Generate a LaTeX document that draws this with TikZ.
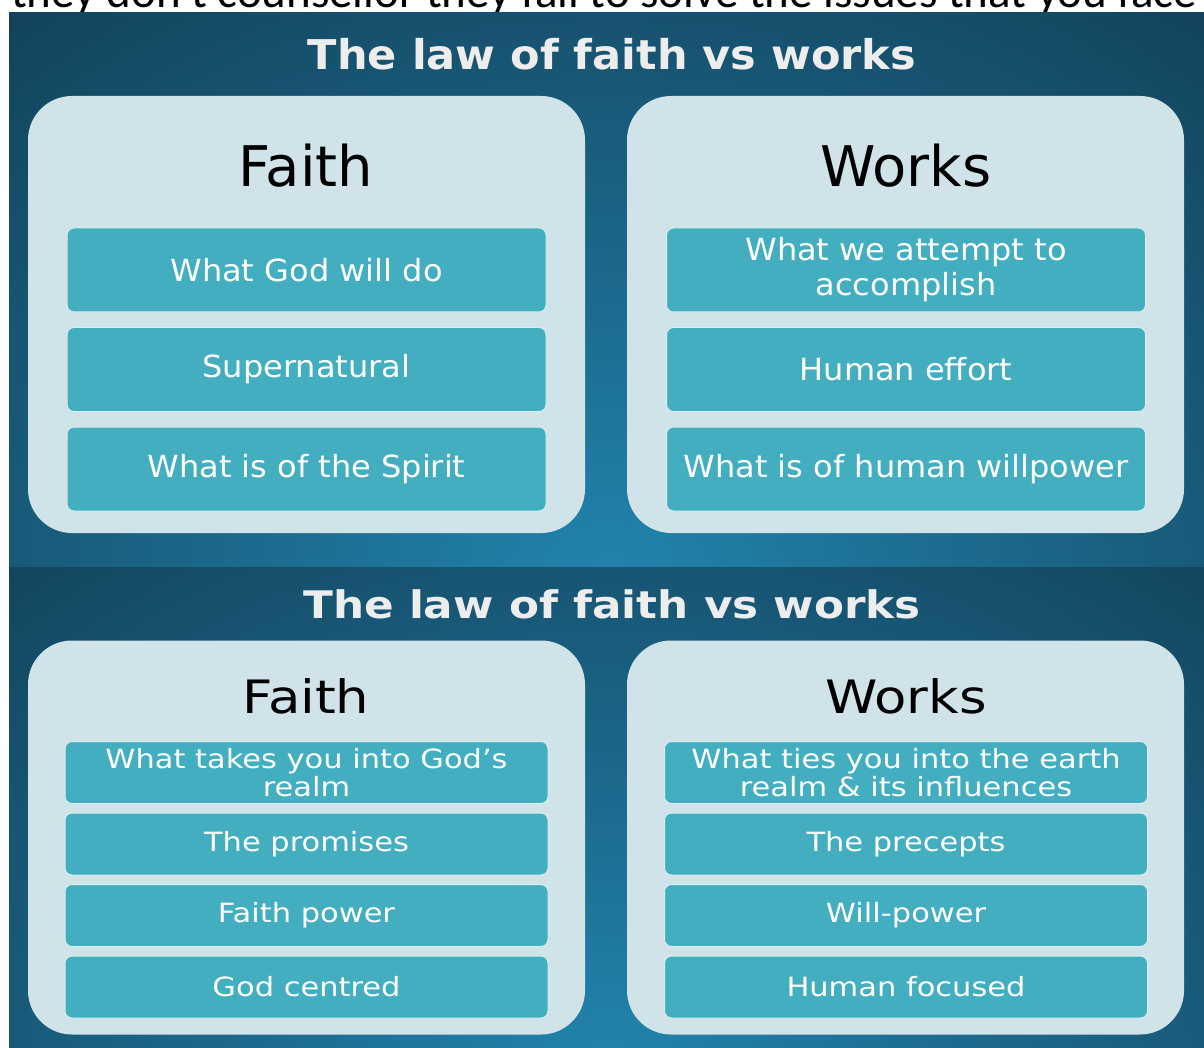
\documentclass[tikz,border=0pt]{standalone}
\usepackage{fontspec}
\setmainfont{DejaVu Sans}
\newfontfamily\upperfont[FakeStretch=1.05]{DejaVu Sans}
\newfontfamily\lowerfont[FakeStretch=1.15]{DejaVu Sans}
\newfontfamily\notefont{Carlito}
\usepackage{tikz}
\usetikzlibrary{positioning}
\usetikzlibrary{backgrounds}

\definecolor{slidedark}{HTML}{0F3448}
\definecolor{slidelight}{HTML}{2283AD}
\definecolor{panelfill}{HTML}{D0E3E9}
\definecolor{cellfill}{HTML}{42AEBF}
\definecolor{celledge}{HTML}{D6EFF3}

\begin{document}
\begin{tikzpicture}[x=1pt,y=-1pt,
	panel/.style={fill=panelfill, rounded corners=44pt, inner sep=0pt},
	cell/.style={fill=cellfill, draw=celledge, line width=1pt, rounded corners=7pt, text=white, align=center, inner sep=0pt},
	heading/.style={text=black, anchor=base, inner sep=0pt},
	title/.style={text=white!93!black, anchor=base, inner sep=0pt}]
\useasboundingbox (0,0) rectangle (1204,1048);
\clip (0,0) rectangle (1204,1048);
\fill[white] (0,0) rectangle (1204,1048);

% line of the page above, cut off
\node[anchor=base west, inner sep=0pt, font=\notefont\fontsize{47}{50}\selectfont] (note) at (11,8) {they don't counsellor they fail to solve the issues that you face};

% upper slide
\begin{scope}
\clip (9,13) rectangle (1204,567);
\fill[slidedark] (9,13) rectangle (1204,567);
\shade[inner color=slidelight, outer color=slidedark] (610,575) ellipse (1150pt and 900pt);
\end{scope}
\node[title, font=\upperfont\bfseries\fontsize{41}{44}\selectfont] (ttlA) at (612,70) {The law of faith vs works};

\node[panel, minimum width=557pt, minimum height=437pt] (faithA) at (306.5,314.5) {};
\node[panel, minimum width=557pt, minimum height=437pt] (worksA) at (905.5,314.5) {};
\node[heading, font=\fontsize{56}{60}\selectfont] (faithAhead) at (306,187) {Faith};
\node[heading, font=\fontsize{56}{60}\selectfont] (worksAhead) at (906,187) {Works};

\begin{scope}[every node/.style={cell, minimum width=479pt, minimum height=84pt, font=\upperfont\fontsize{30.5}{35}\selectfont}, node distance=14.5pt]
\node (fa1) at (306.5,270) {What God will do};
\node[below=of fa1] (fa2) {Supernatural};
\node[below=of fa2] (fa3) {What is of the Spirit};
\node (wa1) at (906,270) {What we attempt to\\accomplish};
\node[below=of wa1] (wa2) {Human effort};
\node[below=of wa2] (wa3) {What is of human willpower};
\end{scope}

% lower slide
\begin{scope}
\clip (9,567) rectangle (1204,1048);
\fill[slidedark] (9,567) rectangle (1204,1048);
\shade[inner color=slidelight, outer color=slidedark] (610,1060) ellipse (1150pt and 850pt);
\end{scope}
\node[title, font=\lowerfont\bfseries\fontsize{38}{40}\selectfont] (ttlB) at (612,618) {The law of faith vs works};

\node[panel, minimum width=557pt, minimum height=394pt] (faithB) at (306.5,837.5) {};
\node[panel, minimum width=557pt, minimum height=394pt] (worksB) at (905.5,837.5) {};
\node[heading, font=\lowerfont\fontsize{46}{50}\selectfont] (faithBhead) at (306,713) {Faith};
\node[heading, font=\lowerfont\fontsize{46}{50}\selectfont] (worksBhead) at (906,713) {Works};

\begin{scope}[every node/.style={cell, minimum width=483pt, minimum height=62pt, font=\lowerfont\fontsize{26.5}{28}\selectfont}, node distance=8.5pt]
\node (fb1) at (306.5,772.5) {What takes you into God’s\\realm};
\node[below=of fb1] (fb2) {The promises};
\node[below=of fb2] (fb3) {Faith power};
\node[below=of fb3] (fb4) {God centred};
\node (wb1) at (906,772.5) {What ties you into the earth\\realm \& its influences};
\node[below=of wb1] (wb2) {The precepts};
\node[below=of wb2] (wb3) {Will-power};
\node[below=of wb3] (wb4) {Human focused};
\end{scope}
\end{tikzpicture}
\end{document}
